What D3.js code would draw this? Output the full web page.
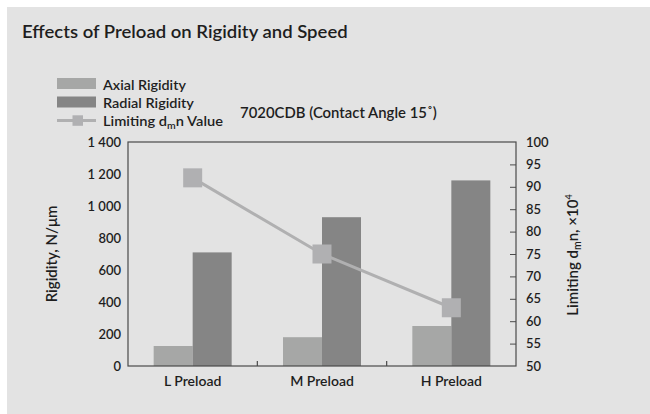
<!DOCTYPE html>
<html><head><meta charset="utf-8">
<script src="https://cdn.jsdelivr.net/npm/d3@7"></script>
<style>
html,body{margin:0;padding:0;background:#fff;}
svg text{font-family:Lato,"Open Sans",sans-serif;fill:#1e1e1e;}
</style></head>
<body><svg id="c" width="650" height="414"></svg>
<script>
const categories = ["L Preload","M Preload","H Preload"];
const axialRigidity = [125, 180, 250];
const radialRigidity = [710, 930, 1160];
const limitingDmn = [92, 75, 63];
const leftTicks = [0,200,400,600,800,1000,1200,1400];
const rightTicks = [50,55,60,65,70,75,80,85,90,95,100];

const svg = d3.select("#c");
svg.append("rect").attr("x",0).attr("y",0).attr("width",650).attr("height",414).attr("fill","#fff");
svg.append("rect").attr("x",7).attr("y",7).attr("width",643).attr("height",407).attr("fill","#e3e3e3");

const m = {l:128, r:516, t:142, b:366};
const x = d3.scaleBand().domain(categories).range([m.l,m.r]).paddingInner(0).paddingOuter(0);
const yL = d3.scaleLinear().domain([0,1400]).range([m.b,m.t]);
const yR = d3.scaleLinear().domain([50,100]).range([m.b,m.t]);
const barW = 39;

const fmt = v => v>=1000 ? (Math.floor(v/1000)+" "+String(v%1000).padStart(3,"0")) : String(v);

// text helper: place text at (px,py) then fit to target width
function squeeze(sel, px, py, target){
  const L = sel.node().getComputedTextLength();
  sel.attr("x",0).attr("y",0).attr("transform",`translate(${px},${py}) scale(${target/L},1)`);
}

// bars
const g = svg.append("g");
g.selectAll(".ax").data(categories).join("rect")
  .attr("x",d=>x(d)+x.bandwidth()/2-barW).attr("width",barW)
  .attr("y",(d,i)=>yL(axialRigidity[i])).attr("height",(d,i)=>yL(0)-yL(axialRigidity[i]))
  .attr("fill","#a6a7a6");
g.selectAll(".rd").data(categories).join("rect")
  .attr("x",d=>x(d)+x.bandwidth()/2).attr("width",barW)
  .attr("y",(d,i)=>yL(radialRigidity[i])).attr("height",(d,i)=>yL(0)-yL(radialRigidity[i]))
  .attr("fill","#858585");

// line
const line = d3.line().x((d,i)=>x(categories[i])+x.bandwidth()/2).y(d=>yR(d));
svg.append("path").datum(limitingDmn).attr("d",line).attr("fill","none").attr("stroke","#b0b0b1").attr("stroke-width",3);
svg.selectAll(".mk").data(limitingDmn).join("rect")
  .attr("x",(d,i)=>x(categories[i])+x.bandwidth()/2-9.5).attr("y",d=>yR(d)-9.5)
  .attr("width",19).attr("height",19).attr("fill","#b0b0b2");

// frame
const axisColor="#4a4a4a";
svg.append("rect").attr("x",m.l).attr("y",m.t).attr("width",m.r-m.l).attr("height",m.b-m.t)
  .attr("fill","none").attr("stroke",axisColor).attr("stroke-width",1.2);

// left axis labels
const la = svg.append("g").attr("transform",`translate(${m.l},0)`)
  .call(d3.axisLeft(yL).tickValues(leftTicks).tickSize(0).tickPadding(7).tickFormat(fmt));
la.select(".domain").remove();
la.selectAll("text").attr("font-size",13).attr("font-weight",600).attr("font-family","Lato,sans-serif").attr("fill","#1e1e1e");

// right axis
const ra = svg.append("g").attr("transform",`translate(${m.r},0)`)
  .call(d3.axisRight(yR).tickValues(rightTicks).tickSizeInner(-6).tickSizeOuter(0).tickPadding(10));
ra.select(".domain").remove();
ra.selectAll("line").attr("stroke",axisColor);
ra.selectAll(".tick").filter(d=>d===50||d===100).select("line").remove();
ra.selectAll("text").attr("font-size",13).attr("font-weight",600).attr("font-family","Lato,sans-serif").attr("fill","#1e1e1e");

// bottom axis
const ba = svg.append("g").attr("transform",`translate(0,${m.b})`)
  .call(d3.axisBottom(x).tickSize(0).tickPadding(10));
ba.select(".domain").remove();
ba.selectAll("text").attr("font-size",14).attr("font-weight",600).attr("font-family","Lato,sans-serif").attr("fill","#1e1e1e");
svg.selectAll(".bt").data(categories.slice(1)).join("line")
  .attr("x1",d=>x(d)).attr("x2",d=>x(d)).attr("y1",m.b).attr("y2",m.b-5)
  .attr("stroke",axisColor).attr("stroke-width",1.2);

// title
squeeze(svg.append("text").attr("font-size",18).attr("font-weight",600).text("Effects of Preload on Rigidity and Speed"), 22, 38, 326);

// subtitle
squeeze(svg.append("text").attr("font-size",15).attr("font-weight",600).text("7020CDB (Contact Angle 15˚)"), 240, 118, 197);

// legend
const lg = svg.append("g");
lg.append("rect").attr("x",57).attr("y",78).attr("width",39).attr("height",11).attr("fill","#a6a7a6");
lg.append("rect").attr("x",57).attr("y",96.5).attr("width",39).attr("height",11).attr("fill","#858585");
lg.append("line").attr("x1",57).attr("x2",96).attr("y1",120.5).attr("y2",120.5).attr("stroke","#b0b0b1").attr("stroke-width",3);
lg.append("rect").attr("x",72.5).attr("y",115.3).attr("width",10.5).attr("height",10.5).attr("fill","#b0b0b2");
squeeze(lg.append("text").attr("font-size",14).attr("font-weight",600).text("Axial Rigidity"), 103, 90, 83);
squeeze(lg.append("text").attr("font-size",14).attr("font-weight",600).text("Radial Rigidity"), 103, 107.5, 91);
const t3 = lg.append("text").attr("font-size",14).attr("font-weight",600);
t3.append("tspan").text("Limiting d");
t3.append("tspan").attr("font-size",10).attr("dy",3).text("m");
t3.append("tspan").attr("dy",-3).text("n Value");
squeeze(t3, 103, 125.5, 120);

// axis titles
svg.append("text").attr("transform","translate(57,254) rotate(-90)").attr("text-anchor","middle")
  .attr("font-size",15).attr("font-weight",600).text("Rigidity, N/μm");
const rt = svg.append("text").attr("transform","translate(578,255) rotate(-90)").attr("text-anchor","middle")
  .attr("font-size",15).attr("font-weight",600);
rt.append("tspan").text("Limiting d");
rt.append("tspan").attr("font-size",10.5).attr("dy",3).text("m");
rt.append("tspan").attr("dy",-3).text("n, ×10");
rt.append("tspan").attr("font-size",9).attr("dy",-6).text("4");
</script></body></html>
